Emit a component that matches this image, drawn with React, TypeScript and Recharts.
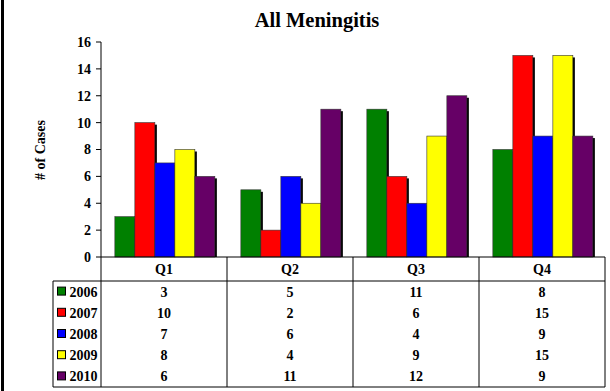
import React from 'react';
import { BarChart, Bar, XAxis, YAxis, Customized } from 'recharts';

const quarters = ['Q1', 'Q2', 'Q3', 'Q4'];
const years = ['2006', '2007', '2008', '2009', '2010'];
const colors = ['#008000', '#FF0000', '#0000FF', '#FFFF00', '#660066'];

const cases2006 = [3, 5, 11, 8];
const cases2007 = [10, 2, 6, 15];
const cases2008 = [7, 6, 4, 9];
const cases2009 = [8, 4, 9, 15];
const cases2010 = [6, 11, 12, 9];
const seriesValues = [cases2006, cases2007, cases2008, cases2009, cases2010];

const yTicks = [0, 2, 4, 6, 8, 10, 12, 14, 16];

const data = quarters.map((q, i) => {
  const row: Record<string, string | number> = { quarter: q };
  years.forEach((y, s) => {
    row[y] = seriesValues[s][i];
  });
  return row;
});

const FONT = '"Liberation Serif", "Times New Roman", serif';
const W = 610;
const H = 391;
const PLOT_LEFT = 101;
const PLOT_RIGHT = 605;
const PLOT_TOP = 42;
const PLOT_BOTTOM = 257;
const HEADER_H = 24;
const ROW_H = 21.2;
const LEGEND_LEFT = 53;
const TABLE_BOTTOM = PLOT_BOTTOM + HEADER_H + ROW_H * years.length;

function ShadowBar(props: any) {
  const { x, y, width, height, fill } = props;
  if (!height || height <= 0) return null;
  return (
    <g>
      <rect x={x + 2} y={y + 2} width={width} height={Math.max(height - 2, 0)} fill='#000' />
      <rect x={x} y={y} width={width} height={height} fill={fill} stroke='#333' strokeWidth={0.6} />
    </g>
  );
}

// header label + column values under each quarter
function TableColumn(props: any) {
  const { x, payload } = props;
  const idx = payload.index;
  const band = (PLOT_RIGHT - PLOT_LEFT) / quarters.length;
  const right = x + band / 2;
  return (
    <g fontFamily={FONT} fontWeight='bold' fill='#000'>
      <line x1={right} x2={right} y1={PLOT_BOTTOM} y2={TABLE_BOTTOM} stroke='#000' strokeWidth={1} />
      <text x={x} y={PLOT_BOTTOM + 17} textAnchor='middle' fontSize={14} fill='#000'>
        {payload.value}
      </text>
      {seriesValues.map((vals, s) => (
        <text
          key={s}
          x={x}
          y={PLOT_BOTTOM + HEADER_H + ROW_H * s + 15.5}
          textAnchor='middle'
          fontSize={14}
          fill='#000'
        >
          {vals[idx]}
        </text>
      ))}
    </g>
  );
}

function Decorations() {
  const rowTop = PLOT_BOTTOM + HEADER_H;
  return (
    <g fontFamily={FONT} fontWeight='bold'>
      <rect x={1} y={0} width={3} height={H} fill='#000' />
      <text x={317} y={27} textAnchor='middle' fontSize={20.5} fill='#000'>
        All Meningitis
      </text>
      <text
        x={45}
        y={150}
        transform='rotate(-90 45 150)'
        textAnchor='middle'
        fontSize={14}
        fill='#000'
      >
        # of Cases
      </text>
      <line x1={PLOT_LEFT} x2={PLOT_LEFT} y1={PLOT_BOTTOM} y2={TABLE_BOTTOM} stroke='#000' />
      <line x1={LEGEND_LEFT} x2={PLOT_RIGHT} y1={rowTop} y2={rowTop} stroke='#000' />
      <line x1={LEGEND_LEFT} x2={PLOT_RIGHT} y1={TABLE_BOTTOM} y2={TABLE_BOTTOM} stroke='#000' />
      <line x1={LEGEND_LEFT} x2={LEGEND_LEFT} y1={rowTop} y2={TABLE_BOTTOM} stroke='#000' />
      {years.map((yr, s) => {
        const cy = rowTop + ROW_H * s + ROW_H / 2;
        return (
          <g key={yr}>
            <rect x={57.5} y={cy - 4.5} width={8} height={8} fill={colors[s]} stroke='#000' strokeWidth={1} />
            <text x={69.5} y={cy + 5} fontSize={14} fill='#000'>
              {yr}
            </text>
          </g>
        );
      })}
    </g>
  );
}

export default function App() {
  return (
    <div style={{ position: 'absolute', left: 0, top: 0, width: W, height: H, background: '#fff' }}>
      <BarChart
        width={W}
        height={H}
        data={data}
        margin={{ top: PLOT_TOP, right: W - PLOT_RIGHT, left: 0, bottom: 0 }}
        barCategoryGap='11%'
        barGap={0}
      >
        <YAxis
          width={PLOT_LEFT}
          domain={[0, 16]}
          ticks={yTicks}
          interval={0}
          tickSize={5}
          tickMargin={5}
          axisLine={{ stroke: '#000' }}
          tickLine={{ stroke: '#000' }}
          tick={{ fontSize: 14, fontWeight: 'bold', fill: '#000', fontFamily: FONT }}
        />
        <XAxis
          dataKey='quarter'
          height={H - PLOT_BOTTOM}
          axisLine={{ stroke: '#000' }}
          tickLine={false}
          interval={0}
          tick={<TableColumn />}
        />
        {years.map((yr, s) => (
          <Bar key={yr} dataKey={yr} fill={colors[s]} shape={<ShadowBar />} isAnimationActive={false} />
        ))}
        <Customized component={<Decorations />} />
      </BarChart>
    </div>
  );
}
